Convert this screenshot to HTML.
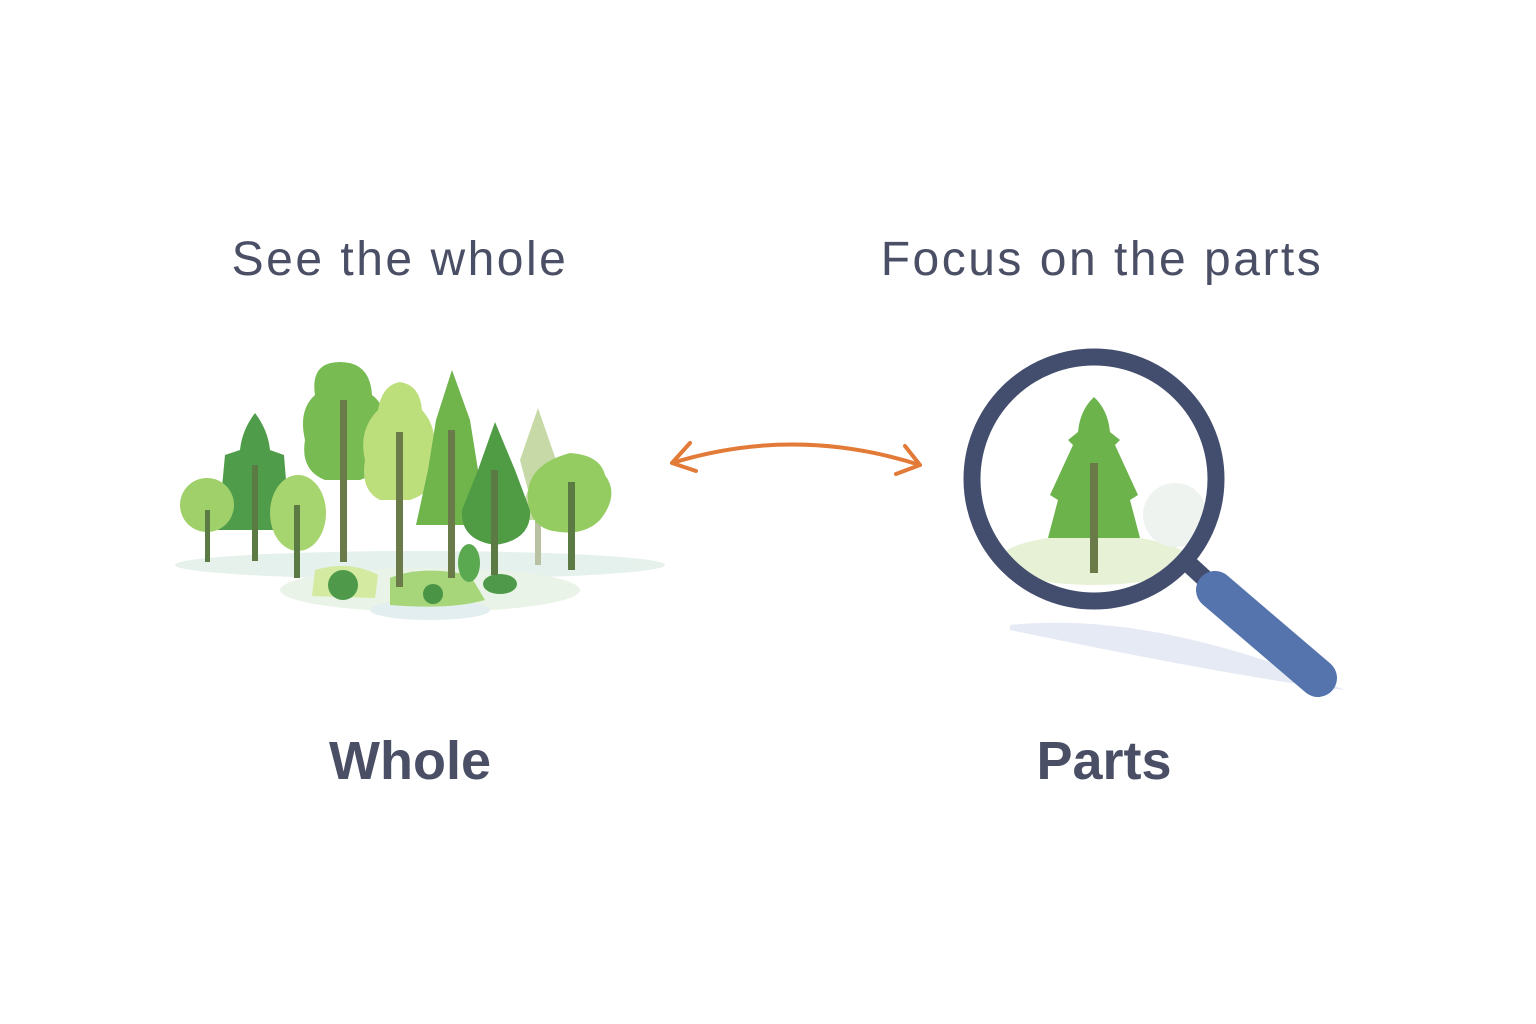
<!DOCTYPE html>
<html><head><meta charset="utf-8"><style>
html,body{margin:0;padding:0;background:#fff;}
svg{display:block}
text{font-family:"Liberation Sans",sans-serif;fill:#4a4f66}
</style></head><body>
<svg width="1536" height="1024" viewBox="0 0 1536 1024">
<text x="400" y="275" font-size="48" text-anchor="middle" letter-spacing="2.5">See the whole</text>
<text x="1102" y="275" font-size="48" text-anchor="middle" letter-spacing="2.5">Focus on the parts</text>
<text x="410" y="779" font-size="54" font-weight="bold" text-anchor="middle">Whole</text>
<text x="1104" y="779" font-size="54" font-weight="bold" text-anchor="middle">Parts</text>

<!-- ground -->
<g opacity="0.6">
<ellipse cx="420" cy="565" rx="245" ry="14" fill="#d5e8e0"/>
<ellipse cx="430" cy="590" rx="150" ry="22" fill="#dcecd8"/>
<ellipse cx="430" cy="610" rx="60" ry="10" fill="#cfe3e6"/>
</g>
<path d="M390 578 Q420 565 470 575 L485 600 Q450 610 390 605 Z" fill="#a6d57a"/>
<path d="M315 570 Q350 560 378 575 L375 598 L312 596 Z" fill="#d3eaa0"/>
<circle cx="343" cy="585" r="15" fill="#4e9a4a"/>
<ellipse cx="500" cy="584" rx="17" ry="10" fill="#4e9a4a"/>
<ellipse cx="469" cy="563" rx="11" ry="19" fill="#5aa84f"/>
<ellipse cx="433" cy="594" rx="10" ry="10" fill="#4a9446"/>

<path d="M538 408 L556 460 L548 490 L560 520 L518 520 L528 490 L520 460 Z" fill="#c6d9a6"/>
<rect x="535" y="500" width="6" height="65" fill="#b8c2a2"/>
<path d="M255 413 Q268 430 270 450 L284 455 L290 530 L218 530 L225 455 L240 450 Q242 430 255 413 Z" fill="#4f9c4a"/>
<rect x="252" y="465" width="6" height="96" fill="#5b7a44"/>
<circle cx="207" cy="505" r="27" fill="#a0d06a"/>
<rect x="205" y="510" width="5" height="52" fill="#5b7a44"/>
<path d="M340 362 Q370 362 372 395 Q392 410 380 440 Q388 470 360 480 L325 480 Q300 470 305 440 Q298 410 315 395 Q310 362 340 362 Z" fill="#78bb52"/>
<rect x="340" y="400" width="7" height="162" fill="#6a7a48"/>
<ellipse cx="298" cy="513" rx="28" ry="38" fill="#a6d46e"/>
<rect x="294" y="505" width="6" height="73" fill="#5b7a44"/>
<path d="M400 382 Q420 385 422 410 Q440 430 432 460 Q440 490 410 500 L380 500 Q360 490 365 460 Q358 430 378 410 Q382 385 400 382 Z" fill="#bcdf7c"/>
<rect x="396" y="432" width="7" height="155" fill="#6a7a48"/>
<path d="M452 370 L470 420 L478 470 L488 525 L416 525 L428 470 L436 420 Z" fill="#6fb54c"/>
<rect x="448" y="430" width="7" height="148" fill="#6a7a48"/>
<path d="M495 422 L515 470 L530 510 Q532 540 495 545 Q460 540 462 510 L478 470 Z" fill="#4f9c45"/>
<rect x="491" y="470" width="7" height="105" fill="#5b7a44"/>
<path d="M570 453 Q600 455 605 475 Q620 495 600 520 Q585 535 560 532 Q530 530 528 500 Q525 465 570 453 Z" fill="#94cc62"/>
<rect x="568" y="482" width="7" height="88" fill="#5b7a44"/>

<path d="M672 463 Q795 425 920 465" fill="none" stroke="#e27a38" stroke-width="4" stroke-linecap="round"/>
<path d="M690 443 L672 463 L696 471" fill="none" stroke="#e27a38" stroke-width="4" stroke-linecap="round" stroke-linejoin="round"/>
<path d="M905 446 L920 465 L896 474" fill="none" stroke="#e27a38" stroke-width="4" stroke-linecap="round" stroke-linejoin="round"/>

<path d="M1010 625 Q1150 610 1345 690 Q1250 680 1010 630 Z" fill="#e6eaf5"/>
<circle cx="1094" cy="479" r="122" fill="#fff"/>
<ellipse cx="1094" cy="560" rx="95" ry="25" fill="#e7f1d6"/>
<circle cx="1175" cy="515" r="32" fill="#eef3ef"/>
<path d="M1094 397 Q1108 410 1110 432 L1120 440 L1115 445 L1138 495 L1130 500 L1140 538 L1048 538 L1058 500 L1050 495 L1073 445 L1068 440 L1078 432 Q1080 410 1094 397 Z" fill="#6cb34c"/>
<rect x="1090" y="463" width="8" height="110" fill="#6a7a48"/>
<circle cx="1094" cy="479" r="122" fill="none" stroke="#434e6e" stroke-width="17"/>
<line x1="1190" y1="565" x2="1215" y2="588" stroke="#434e6e" stroke-width="18"/>
<line x1="1215" y1="590" x2="1318" y2="678" stroke="#5574ad" stroke-width="38" stroke-linecap="round"/>
</svg>
</body></html>
